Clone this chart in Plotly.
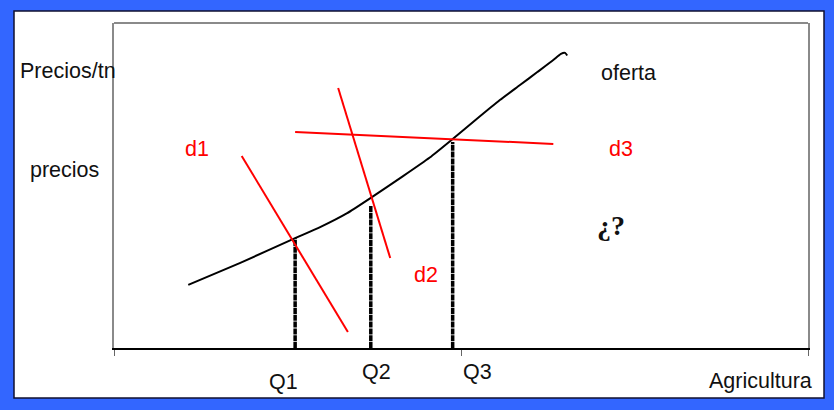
import plotly.graph_objects as go

# ---- data (quantity 0-100, price 0-100 in chart units) ----
supply_q = [10.7, 18.2, 26.1, 29.7, 33.6, 37.0, 41.6, 45.5, 48.8, 52.0, 55.6, 58.5, 61.0, 63.3, 64.4, 65.0, 65.3]
supply_p = [19.4, 26.2, 33.8, 37.2, 41.5, 46.2, 52.8, 58.6, 64.3, 70.0, 76.3, 80.9, 84.9, 88.6, 90.5, 90.8, 90.0]

eq_labels = ["Q1", "Q2", "Q3"]
eq_q = [26.1, 37.0, 48.8]
eq_p = [33.8, 43.7, 63.4]

demand_names = ["d1", "d2", "d3"]
d1_q = [18.4, 33.7]
d1_p = [59.1, 4.9]
d2_q = [32.3, 39.8]
d2_p = [80.0, 27.7]
d3_q = [26.1, 63.3]
d3_p = [66.5, 62.8]

tick_vals = [0, 50, 100]

# ---- layout geometry (pixels) ----
W, H = 834, 410
L, R, T, B = 114, 808, 23, 348


def paper(x, y):
    return (x - L) / (R - L), (B - y) / (B - T)


fig = go.Figure()

for q, p in zip(eq_q, eq_p):
    fig.add_trace(go.Scatter(x=[q, q], y=[0, p], mode="lines",
                             line=dict(color="black", width=3.5, dash="6px,0.8px"),
                             hoverinfo="skip", showlegend=False))

fig.add_trace(go.Scatter(x=supply_q, y=supply_p, mode="lines",
                         line=dict(color="black", width=2, shape="spline", smoothing=0.5),
                         hoverinfo="skip", showlegend=False))

for dq, dp in [(d1_q, d1_p), (d2_q, d2_p), (d3_q, d3_p)]:
    fig.add_trace(go.Scatter(x=dq, y=dp, mode="lines",
                             line=dict(color="#FF0000", width=2),
                             hoverinfo="skip", showlegend=False))

shapes = []
# white inner panel with dark border
x0, y0 = paper(14, 11)
x1, y1 = paper(824, 398)
shapes.append(dict(type="rect", xref="paper", yref="paper", x0=x0, y0=y1, x1=x1, y1=y0,
                   fillcolor="white", line=dict(color="#101030", width=1.5), layer="below"))
# top gray frame line
shapes.append(dict(type="line", xref="paper", yref="paper", x0=0, y0=1, x1=1, y1=1,
                   line=dict(color="#8a8a8a", width=2)))

SANS = "Liberation Sans, Arial, sans-serif"
FS = 21.5
labels = [
    ("Precios/tn", 68, 71, "#111111", FS, SANS),
    ("precios", 64, 170, "#111111", FS, SANS),
    ("d1", 197, 149, "#FF0000", FS, SANS),
    ("d2", 426, 275, "#FF0000", FS, SANS),
    ("d3", 621, 149, "#FF0000", FS, SANS),
    ("oferta", 628, 73, "#111111", FS, SANS),
    ("Q1", 283, 382, "#111111", FS, SANS),
    ("Q2", 376, 372, "#111111", FS, SANS),
    ("Q3", 477, 372, "#111111", FS, SANS),
    ("Agricultura", 760, 381, "#111111", FS, SANS),
    ("<b>¿?</b>", 611, 225, "#111111", 28, "Liberation Serif, Times New Roman, serif"),
]
annotations = []
for text, xp, yp, color, size, fam in labels:
    ax, ay = paper(xp, yp)
    annotations.append(dict(text=text, x=ax, y=ay, xref="paper", yref="paper",
                            showarrow=False, xanchor="center", yanchor="middle",
                            font=dict(family=fam, size=size, color=color)))

fig.update_layout(
    width=W, height=H,
    margin=dict(l=L, r=W - R, t=T, b=H - B, pad=0),
    paper_bgcolor="#3366FF",
    plot_bgcolor="rgba(0,0,0,0)",
    shapes=shapes,
    annotations=annotations,
    showlegend=False,
    xaxis=dict(range=[0, 100], showgrid=False, zeroline=False, showline=True,
               linecolor="black", linewidth=1.5, tickvals=tick_vals, ticks="outside",
               ticklen=6, tickcolor="#666666", tickwidth=1, showticklabels=False,
               fixedrange=True),
    yaxis=dict(range=[0, 100], showgrid=False, zeroline=False, showline=True,
               linecolor="#8a8a8a", linewidth=2, mirror=True, ticks="",
               showticklabels=False, fixedrange=True),
)

fig.write_html("out.html", config={"displayModeBar": False})

# remove the default page margin so the figure fills the window exactly
with open("out.html", "r", encoding="utf-8") as f:
    html = f.read()
html = html.replace("<body>", '<body style="margin:0;padding:0;overflow:hidden">', 1)
with open("out.html", "w", encoding="utf-8") as f:
    f.write(html)
